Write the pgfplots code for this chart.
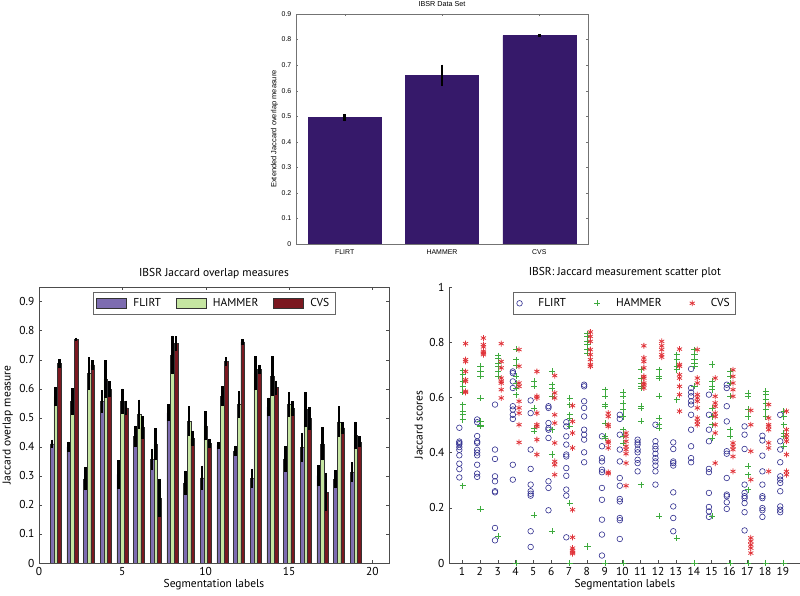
\documentclass[border=0pt]{standalone}
\usepackage{fontspec}
\setmainfont{PT Sans}
\newfontfamily\arialfont{Liberation Sans}
\usepackage{pgfplots}
\usepackage{pgfplotstable}
\pgfplotsset{compat=1.18}
\definecolor{topbar}{HTML}{36196A}
\definecolor{flirt}{HTML}{7D6CB0}
\definecolor{hammer}{HTML}{C5E5A1}
\definecolor{cvs}{HTML}{7B1820}
\definecolor{sflirt}{HTML}{2E2C8E}
\definecolor{shammer}{HTML}{3DAA3D}
\definecolor{scvs}{HTML}{E0343A}

\pgfplotstableread{
x f fe h he c ce
1 0.41 0.015 0.573 0.033 0.687 0.015
2 0.40 0.018 0.556 0.045 0.770 0.006
3 0.29 0.040 0.653 0.056 0.682 0.016
4 0.556 0.039 0.633 0.065 0.598 0.028
5 0.305 0.049 0.557 0.043 0.534 0.025
6 0.436 0.037 0.512 0.050 0.466 0.039
7 0.356 0.037 0.409 0.055 0.224 0.066
8 0.517 0.029 0.716 0.067 0.755 0.026
9 0.276 0.042 0.488 0.052 0.428 0.026
10 0.293 0.042 0.472 0.050 0.412 0.016
11 0.405 0.012 0.574 0.034 0.693 0.016
12 0.386 0.018 0.545 0.046 0.761 0.009
13 0.292 0.033 0.653 0.058 0.666 0.017
14 0.537 0.032 0.644 0.068 0.604 0.024
15 0.358 0.044 0.545 0.044 0.532 0.025
16 0.398 0.050 0.528 0.061 0.497 0.039
17 0.301 0.037 0.410 0.057 0.244 0.066
18 0.288 0.031 0.486 0.053 0.465 0.020
19 0.313 0.034 0.440 0.047 0.417 0.019
}\labeldata

\pgfplotsset{
  barlegend/.style={legend image code/.code={\draw[##1,draw=black!80,line width=0.4pt] (0pt,-4pt) rectangle (22.5pt,4pt);}},
}

\begin{document}
\begin{tikzpicture}
\useasboundingbox (0pt,0pt) rectangle (600pt,447pt);

% ---------------- top chart ----------------
\begin{axis}[at={(222pt,264pt)},anchor=south west,scale only axis,
  width=219pt,height=172.5pt,
  xmin=0.5,xmax=3.5,ymin=0,ymax=0.9,
  xtick={1,2,3},xticklabels={FLIRT,HAMMER,CVS},
  ytick={0,0.1,...,0.9},
  yticklabel style={/pgf/number format/fixed,/pgf/number format/precision=1},
  /pgf/number format/assume math mode=true,
  tick label style={font=\arialfont\fontsize{5.2}{6}\selectfont},
  title={IBSR Data Set},
  title style={font=\arialfont\fontsize{5.4}{6}\selectfont,yshift=-4pt},
  ylabel={Extended Jaccard overlap measure},
  ylabel style={font=\arialfont\fontsize{5.6}{6.5}\selectfont,yshift=-4pt},
  axis line style={black!55},tick style={black!55},
  tick align=inside,major tick length=1.8pt,
  xticklabel style={yshift=-1pt},
]
\addplot[ybar,bar width=0.75,fill=topbar,draw=topbar,
  error bars/.cd,y dir=both,y explicit,error mark=none,
  error bar style={line width=2.2pt,black}]
  coordinates {(1,0.495) +- (0,0.014) (2,0.66) +- (0,0.042) (3,0.815) +- (0,0.005)};
\end{axis}

% ---------------- bottom-left chart ----------------
\begin{axis}[at={(29.25pt,24.75pt)},anchor=south west,scale only axis,
  width=262.5pt,height=207pt,
  xmin=0,xmax=21,ymin=0,ymax=0.95,
  xtick={0,5,10,15,20},ytick={0,0.1,...,0.9},
  yticklabel style={/pgf/number format/fixed,/pgf/number format/precision=1},
  /pgf/number format/assume math mode=true,
  font=\fontsize{8.6}{10}\selectfont,
  title={IBSR Jaccard overlap measures},
  title style={yshift=-3pt},
  xlabel={Segmentation labels},
  ylabel={Jaccard overlap measure},
  xlabel style={yshift=4pt},
  ylabel style={yshift=-2pt},
  axis line style={black!70},tick style={black!70},
  tick align=inside,major tick length=2pt,
  legend style={at={(0.5,0.982)},anchor=north,legend columns=3,draw=black!60,
    font=\fontsize{8.6}{10}\selectfont,inner sep=2.5pt,
    /tikz/every odd column/.append style={column sep=3pt},
    /tikz/every even column/.append style={column sep=9pt}},
]
\addplot[ybar,bar width=0.22,bar shift=0,fill=flirt,draw=black!80,line width=0.3pt,barlegend,
  error bars/.cd,y dir=both,y explicit,error mark=none,
  error bar style={line width=2pt,black}]
  table[x expr=\thisrow{x}-0.22,y=f,y error=fe]{\labeldata};
\addlegendentry{FLIRT}
\addplot[ybar,bar width=0.22,bar shift=0,fill=hammer,draw=black!80,line width=0.3pt,barlegend,
  error bars/.cd,y dir=both,y explicit,error mark=none,
  error bar style={line width=2pt,black}]
  table[x=x,y=h,y error=he]{\labeldata};
\addlegendentry{HAMMER}
\addplot[ybar,bar width=0.22,bar shift=0,fill=cvs,draw=black!80,line width=0.3pt,barlegend,
  error bars/.cd,y dir=both,y explicit,error mark=none,
  error bar style={line width=2pt,black}]
  table[x expr=\thisrow{x}+0.22,y=c,y error=ce]{\labeldata};
\addlegendentry{CVS}
\end{axis}

% ---------------- bottom-right scatter ----------------
\begin{axis}[at={(336.75pt,24.75pt)},anchor=south west,scale only axis,
  width=263.8pt,height=207pt,
  xmin=0.27,xmax=20,ymin=0,ymax=1,
  axis x line*=bottom,axis y line*=left,
  xtick={1,2,...,19},ytick={0,0.2,...,1},
  yticklabel style={/pgf/number format/fixed,/pgf/number format/precision=1},
  /pgf/number format/assume math mode=true,
  font=\fontsize{8.6}{10}\selectfont,
  title={IBSR: Jaccard measurement scatter plot},
  title style={yshift=-3pt},
  xlabel={Segmentation labels},
  ylabel={Jaccard scores},
  xlabel style={yshift=4pt},
  ylabel style={yshift=-2pt},
  axis line style={black!70,-},tick style={black!70},
  tick align=inside,major tick length=2pt,
  clip=false,
  legend style={at={(0.499,0.982)},anchor=north,legend columns=3,draw=black!60,
    font=\fontsize{8.6}{10}\selectfont,inner sep=2.5pt,
    /tikz/every odd column/.append style={column sep=10pt},
    /tikz/every even column/.append style={column sep=19pt}},
]
\addplot[only marks,mark=o,mark size=2.1pt,sflirt,line width=0.45pt,x filter/.expression={x-0.15}]
coordinates {
(1,0.49)(1,0.44)(1,0.435)(1,0.43)(1,0.42)(1,0.41)(1,0.39)(1,0.36)(1,0.34)(1,0.31)
(2,0.52)(2,0.51)(2,0.46)(2,0.44)(2,0.435)(2,0.41)(2,0.40)(2,0.39)(2,0.356)(2,0.324)(2,0.312)
(3,0.574)(3,0.411)(3,0.377)(3,0.314)(3,0.296)(3,0.26)(3,0.256)(3,0.127)(3,0.082)
(4,0.694)(4,0.688)(4,0.658)(4,0.634)(4,0.568)(4,0.556)(4,0.537)(4,0.522)(4,0.356)(4,0.302)
(5,0.589)(5,0.543)(5,0.411)(5,0.341)(5,0.284)(5,0.26)(5,0.251)(5,0.244)(5,0.115)(5,0.058)
(6,0.568)(6,0.562)(6,0.507)(6,0.489)(6,0.483)(6,0.453)(6,0.296)(6,0.272)(6,0.191)
(7,0.51)(7,0.495)(7,0.459)(7,0.429)(7,0.393)(7,0.386)(7,0.344)(7,0.316)(7,0.266)(7,0.244)(7,0.093)
(8,0.646)(8,0.64)(8,0.586)(8,0.562)(8,0.531)(8,0.483)(8,0.465)(8,0.447)(8,0.401)(8,0.365)
(9,0.459)(9,0.423)(9,0.38)(9,0.368)(9,0.338)(9,0.329)(9,0.272)(9,0.229)(9,0.157)(9,0.103)(9,0.027)
(10,0.537)(10,0.522)(10,0.465)(10,0.411)(10,0.368)(10,0.308)(10,0.28)(10,0.232)(10,0.223)(10,0.163)(10,0.155)(10,0.087)
(11,0.447)(11,0.437)(11,0.429)(11,0.411)(11,0.401)(11,0.374)(11,0.362)(11,0.332)
(12,0.501)(12,0.441)(12,0.423)(12,0.413)(12,0.396)(12,0.38)(12,0.368)(12,0.353)(12,0.332)(12,0.284)
(13,0.437)(13,0.413)(13,0.368)(13,0.362)(13,0.353)(13,0.256)(13,0.205)(13,0.163)(13,0.115)
(14,0.703)(14,0.634)(14,0.618)(14,0.604)(14,0.586)(14,0.574)(14,0.537)(14,0.483)(14,0.423)(14,0.38)(14,0.365)
(15,0.61)(15,0.537)(15,0.483)(15,0.441)(15,0.341)(15,0.329)(15,0.254)(15,0.203)(15,0.187)(15,0.167)
(16,0.646)(16,0.634)(16,0.568)(16,0.513)(16,0.405)(16,0.396)(16,0.308)(16,0.248)(16,0.242)(16,0.22)(16,0.196)
(17,0.495)(17,0.465)(17,0.413)(17,0.284)(17,0.254)(17,0.242)(17,0.235)(17,0.217)(17,0.184)(17,0.118)
(18,0.461)(18,0.444)(18,0.389)(18,0.332)(18,0.284)(18,0.242)(18,0.235)(18,0.199)(18,0.191)(18,0.167)
(19,0.537)(19,0.441)(19,0.411)(19,0.365)(19,0.314)(19,0.302)(19,0.29)(19,0.26)(19,0.205)(19,0.193)(19,0.184)
};
\addlegendentry{FLIRT}
\addplot[only marks,mark=+,mark size=2.3pt,shammer,line width=0.45pt,x filter/.expression={x+0.04}]
coordinates {
(1,0.697)(1,0.682)(1,0.658)(1,0.64)(1,0.62)(1,0.574)(1,0.55)(1,0.537)(1,0.52)(1,0.28)
(2,0.713)(2,0.694)(2,0.676)(2,0.598)(2,0.513)(2,0.50)(2,0.495)(2,0.196)
(3,0.751)(3,0.743)(3,0.725)(3,0.713)(3,0.694)(3,0.676)(3,0.097)
(4,0.775)(4,0.737)(4,0.715)(4,0.676)(4,0.652)(4,0.634)(4,0.61)(4,0)
(5,0.658)(5,0.64)(5,0.562)(5,0.489)(5,0.477)(5,0.173)
(6,0.694)(6,0.646)(6,0.634)(6,0.604)(6,0.483)(6,0.393)(6,0.115)
(7,0.598)(7,0.574)(7,0.537)(7,0.525)(7,0.495)(7,0.217)(7,0)
(8,0.831)(8,0.821)(8,0.803)(8,0.791)(8,0.773)(8,0.761)(8,0.06)
(9,0.628)(9,0.604)(9,0.574)(9,0.568)(9,0.507)(9,0.459)(9,0.453)(9,0)
(10,0.618)(10,0.604)(10,0.58)(10,0.556)(10,0.531)(10,0.483)(10,0.459)(10,0.435)(10,0)
(11,0.70)(11,0.67)(11,0.652)(11,0.64)(11,0.634)(11,0.568)(11,0.562)(11,0.513)(11,0.284)
(12,0.70)(12,0.676)(12,0.67)(12,0.604)(12,0.525)(12,0.501)(12,0.489)(12,0.169)
(13,0.755)(13,0.737)(13,0.713)(13,0.70)(13,0.592)(13,0.091)
(14,0.773)(14,0.755)(14,0.737)(14,0.725)(14,0.713)(14,0.64)(14,0)
(15,0.719)(15,0.658)(15,0.64)(15,0.628)(15,0.562)(15,0.531)(15,0.501)(15,0.453)(15,0.169)
(16,0.694)(16,0.676)(16,0.652)(16,0.604)(16,0.483)(16,0.459)(16,0)
(17,0.616)(17,0.604)(17,0.556)(17,0.531)(17,0.35)(17,0.32)(17,0.266)(17,0)
(18,0.622)(18,0.61)(18,0.592)(18,0.58)(18,0.556)(18,0.531)(18,0)
(19,0.55)(19,0.531)(19,0.501)(19,0.471)(19,0.459)(19,0.423)(19,0)
};
\addlegendentry{HAMMER}
\addplot[only marks,mark=asterisk,mark size=2.2pt,scvs,line width=0.6pt,x filter/.expression={x+0.2}]
coordinates {
(1,0.795)(1,0.737)(1,0.73)(1,0.694)(1,0.664)(1,0.658)(1,0.622)(1,0.618)
(2,0.815)(2,0.791)(2,0.783)(2,0.767)(2,0.761)(2,0.755)
(3,0.795)(3,0.73)(3,0.707)(3,0.67)(3,0.658)(3,0.652)(3,0.628)(3,0.598)
(4,0.773)(4,0.713)(4,0.652)(4,0.64)(4,0.586)(4,0.562)(4,0.543)(4,0.501)(4,0.437)
(5,0.694)(5,0.604)(5,0.598)(5,0.543)(5,0.501)(5,0.495)(5,0.447)(5,0.393)
(6,0.679)(6,0.616)(6,0.598)(6,0.537)(6,0.507)(6,0.435)(6,0.368)(6,0.356)(6,0.32)
(7,0.57)(7,0.513)(7,0.471)(7,0.417)(7,0.193)(7,0.093)(7,0.054)(7,0.046)(7,0.039)(7,0.034)
(8,0.837)(8,0.821)(8,0.803)(8,0.773)(8,0.755)(8,0.737)(8,0.719)(8,0.713)
(9,0.543)(9,0.531)(9,0.501)(9,0.495)(9,0.441)(9,0.435)(9,0.417)(9,0.329)(9,0.324)
(10,0.471)(10,0.459)(10,0.441)(10,0.423)(10,0.411)(10,0.396)(10,0.362)(10,0.28)
(11,0.787)(11,0.743)(11,0.73)(11,0.707)(11,0.676)(11,0.67)(11,0.652)(11,0.646)(11,0.634)
(12,0.803)(12,0.787)(12,0.773)(12,0.755)(12,0.746)
(13,0.775)(13,0.719)(13,0.713)(13,0.682)(13,0.67)(13,0.64)(13,0.61)(13,0.55)
(14,0.773)(14,0.67)(14,0.652)(14,0.61)(14,0.598)(14,0.586)(14,0.562)(14,0.525)(14,0.513)(14,0.501)
(15,0.67)(15,0.604)(15,0.58)(15,0.568)(15,0.543)(15,0.531)(15,0.501)(15,0.471)(15,0.362)
(16,0.70)(16,0.676)(16,0.652)(16,0.628)(16,0.604)(16,0.435)(16,0.423)(16,0.411)(16,0.386)(16,0.332)
(17,0.553)(17,0.501)(17,0.405)(17,0.302)(17,0.091)(17,0.079)(17,0.066)(17,0.054)(17,0.036)
(18,0.574)(18,0.525)(18,0.501)(18,0.495)(18,0.483)(18,0.435)(18,0.417)(18,0.332)
(19,0.55)(19,0.483)(19,0.465)(19,0.453)(19,0.441)(19,0.393)(19,0.332)(19,0.32)
};
\addlegendentry{CVS}
\end{axis}
\end{tikzpicture}
\end{document}
